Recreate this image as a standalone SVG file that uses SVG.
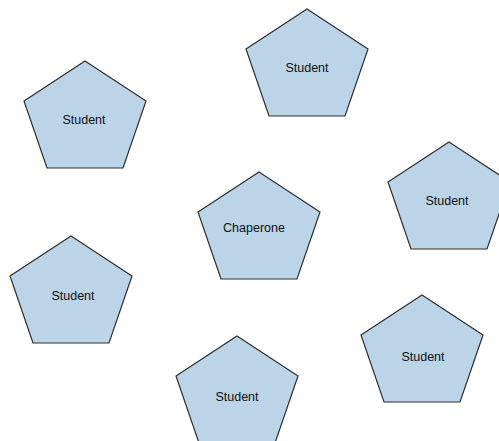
<svg xmlns="http://www.w3.org/2000/svg" xmlns:xlink="http://www.w3.org/1999/xlink" width="499" height="441" viewBox="0 0 499 441">
<style>
.shape{fill:#bcd4e8;stroke:#2e2e2e;stroke-width:1.2;stroke-linejoin:miter}
.lbl{font-family:"Liberation Sans",Arial,sans-serif;font-size:12.5px;fill:#111;text-anchor:middle}
</style>
<defs>
<polygon id="pent" points="0,0 61,40 38,107 -38,107 -61,40"/>
</defs>
<rect width="499" height="441" fill="#fff"/>
<g id="connectors"></g>
<g id="student1" transform="translate(307,9)"><use xlink:href="#pent" class="shape"/><text class="lbl" x="0" y="63">Student</text></g>
<g id="student2" transform="translate(85,61)"><use xlink:href="#pent" class="shape"/><text class="lbl" x="-1" y="63">Student</text></g>
<g id="chaperone" transform="translate(259,172)"><use xlink:href="#pent" class="shape"/><text class="lbl" x="-5" y="60">Chaperone</text></g>
<g id="student3" transform="translate(449,142)"><use xlink:href="#pent" class="shape"/><text class="lbl" x="-2" y="63">Student</text></g>
<g id="student4" transform="translate(71,236)"><use xlink:href="#pent" class="shape"/><text class="lbl" x="2" y="64">Student</text></g>
<g id="student5" transform="translate(422,295)"><use xlink:href="#pent" class="shape"/><text class="lbl" x="1" y="66">Student</text></g>
<g id="student6" transform="translate(237,336)"><use xlink:href="#pent" class="shape"/><text class="lbl" x="0" y="65">Student</text></g>
</svg>
